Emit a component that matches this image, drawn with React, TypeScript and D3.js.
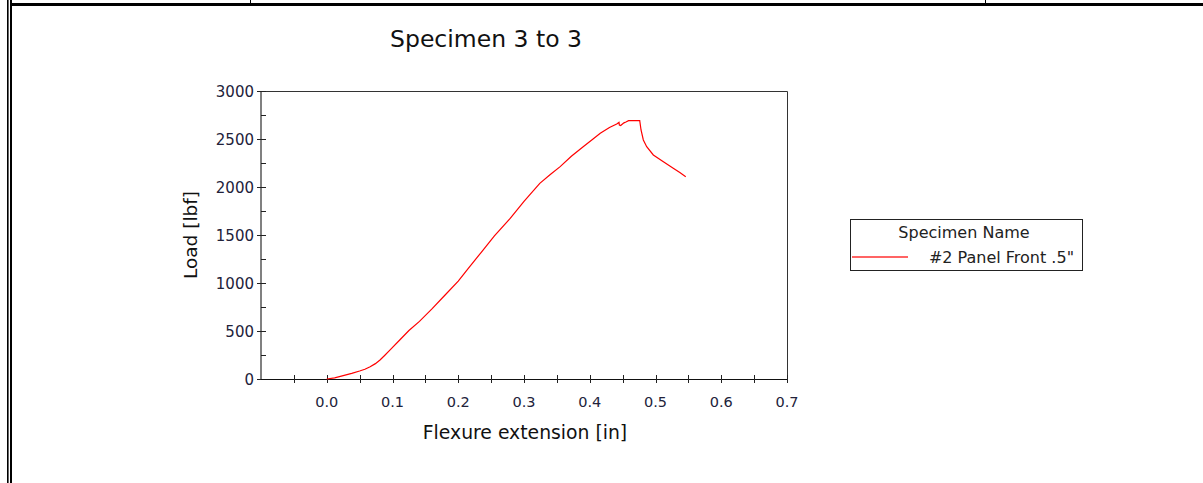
import * as React from 'react';
import * as d3 from 'd3';

// flexure test curve
const extension = [
  0.0, 0.012, 0.025, 0.038, 0.05, 0.058, 0.066, 0.074, 0.081, 0.088, 0.096,
  0.111, 0.125, 0.141, 0.16, 0.18, 0.2, 0.215, 0.235, 0.255, 0.279, 0.3, 0.324,
  0.34, 0.355, 0.372, 0.39, 0.405, 0.416, 0.43, 0.441, 0.4445, 0.445, 0.447,
  0.452, 0.455, 0.459, 0.476, 0.478, 0.4815, 0.4866, 0.4967, 0.512, 0.527,
  0.537, 0.546,
];
const load = [
  0, 12, 35, 58, 83, 102, 128, 160, 198, 245, 300, 406, 505, 600, 730, 875,
  1020, 1150, 1320, 1490, 1674, 1850, 2038, 2130, 2212, 2320, 2420, 2500, 2559,
  2620, 2656, 2673, 2645, 2641, 2668, 2677, 2691, 2691, 2594, 2490, 2420, 2334,
  2264, 2195, 2150, 2108,
];

const xTicks = [0, 0.1, 0.2, 0.3, 0.4, 0.5, 0.6, 0.7];
const xMinorTicks = [-0.05, 0, 0.05, 0.1, 0.15, 0.2, 0.25, 0.3, 0.35, 0.4, 0.45, 0.5, 0.55, 0.6, 0.65, 0.7];
const yTicks = [0, 500, 1000, 1500, 2000, 2500, 3000];
const yMinorTicks = [250, 750, 1250, 1750, 2250, 2750];

const title = 'Specimen 3 to 3';
const xTitle = 'Flexure extension [in]';
const yTitle = 'Load [lbf]';
const legendTitle = 'Specimen Name';
const seriesName = '#2 Panel Front .5"';

const W = 1203;
const H = 483;
const FONT = '"DejaVu Sans", Verdana, sans-serif';

export default function App() {
  const ref = React.useRef<SVGSVGElement>(null);

  React.useEffect(() => {
    const svg = d3.select(ref.current);
    svg.selectAll('*').remove();

    // page frame bits
    svg.append('rect').attr('x', 7).attr('y', 0).attr('width', 1.6).attr('height', H).attr('fill', '#000');
    svg.append('rect').attr('x', 10).attr('y', 0).attr('width', 2).attr('height', H).attr('fill', '#000');
    svg.append('rect').attr('x', 10).attr('y', 3).attr('width', W - 10).attr('height', 3).attr('fill', '#000');
    svg.append('rect').attr('x', 250).attr('y', 0).attr('width', 1).attr('height', 3).attr('fill', '#000');
    svg.append('rect').attr('x', 985).attr('y', 0).attr('width', 1).attr('height', 3).attr('fill', '#000');

    const x = d3.scaleLinear().domain([-0.1, 0.7]).range([261, 787]);
    const y = d3.scaleLinear().domain([0, 3000]).range([379, 91]);

    // frame
    svg.append('path')
      .attr('d', `M${x(-0.1)},${y(3000) + 0.5}H${x(0.7) + 0.5}V${y(0)}`)
      .attr('fill', 'none').attr('stroke', '#333').attr('stroke-width', 1);

    // y axis
    svg.append('line')
      .attr('x1', x(-0.1)).attr('x2', x(-0.1)).attr('y1', y(3000)).attr('y2', y(0))
      .attr('stroke', '#808080').attr('stroke-width', 2);
    const gy = svg.append('g');
    gy.selectAll('line.maj').data(yTicks).enter().append('line')
      .attr('x1', x(-0.1) - 4).attr('x2', x(-0.1) + 5)
      .attr('y1', (d) => Math.round(y(d)) + 0.5).attr('y2', (d) => Math.round(y(d)) + 0.5)
      .attr('stroke', '#222');
    gy.selectAll('line.min').data(yMinorTicks).enter().append('line')
      .attr('x1', x(-0.1)).attr('x2', x(-0.1) + 5)
      .attr('y1', (d) => Math.round(y(d)) + 0.5).attr('y2', (d) => Math.round(y(d)) + 0.5)
      .attr('stroke', '#222');
    gy.selectAll('text').data(yTicks).enter().append('text')
      .attr('x', x(-0.1) - 7).attr('y', (d) => y(d) + 5.5)
      .attr('text-anchor', 'end')
      .style('font-family', FONT).style('font-size', '15px').attr('fill', '#22223a')
      .text((d) => String(d));

    // x axis
    svg.append('line')
      .attr('x1', x(-0.1)).attr('x2', x(0.7)).attr('y1', y(0) + 0.5).attr('y2', y(0) + 0.5)
      .attr('stroke', '#111');
    const gx = svg.append('g');
    gx.selectAll('line').data(xMinorTicks).enter().append('line')
      .attr('x1', (d) => Math.round(x(d)) + 0.5).attr('x2', (d) => Math.round(x(d)) + 0.5)
      .attr('y1', y(0) - 4).attr('y2', y(0) + 4)
      .attr('stroke', '#222');
    gx.selectAll('text').data(xTicks).enter().append('text')
      .attr('x', (d) => x(d)).attr('y', 407)
      .attr('text-anchor', 'middle')
      .style('font-family', FONT).style('font-size', '14.5px').attr('fill', '#22223a')
      .text((d) => d3.format('.1f')(d));

    // curve
    const pts = extension.map((e, i) => [e, load[i]] as [number, number]);
    const line = d3.line<[number, number]>().x((d) => x(d[0])).y((d) => y(d[1]));
    svg.append('path').datum(pts)
      .attr('d', line)
      .attr('fill', 'none').attr('stroke', '#ff0000').attr('stroke-width', 1.2);

    // titles
    svg.append('text').attr('x', 486).attr('y', 47).attr('text-anchor', 'middle')
      .style('font-family', FONT).style('font-size', '23.5px').attr('fill', '#111')
      .text(title);
    svg.append('text').attr('x', 525).attr('y', 439).attr('text-anchor', 'middle')
      .style('font-family', FONT).style('font-size', '18.8px').attr('fill', '#111')
      .text(xTitle);
    svg.append('text')
      .attr('transform', `translate(197,${(y(0) + y(3000)) / 2}) rotate(-90)`)
      .attr('text-anchor', 'middle')
      .style('font-family', FONT).style('font-size', '18.5px').attr('fill', '#111')
      .text(yTitle);

    // legend
    const lg = svg.append('g');
    lg.append('rect').attr('x', 850.5).attr('y', 219.5).attr('width', 232).attr('height', 51)
      .attr('fill', '#fff').attr('stroke', '#222');
    lg.append('text').attr('x', 964).attr('y', 238).attr('text-anchor', 'middle')
      .style('font-family', FONT).style('font-size', '16px').attr('fill', '#222')
      .text(legendTitle);
    lg.append('line').attr('x1', 852).attr('x2', 908).attr('y1', 257).attr('y2', 257)
      .attr('stroke', '#ff3030').attr('stroke-width', 1.3);
    lg.append('text').attr('x', 1074).attr('y', 263).attr('text-anchor', 'end')
      .style('font-family', FONT).style('font-size', '16px').attr('fill', '#222')
      .text(seriesName);
  }, []);

  return (
    <svg
      ref={ref}
      width={W}
      height={H}
      style={{ position: 'absolute', left: 0, top: 0, background: '#fff' }}
    />
  );
}
